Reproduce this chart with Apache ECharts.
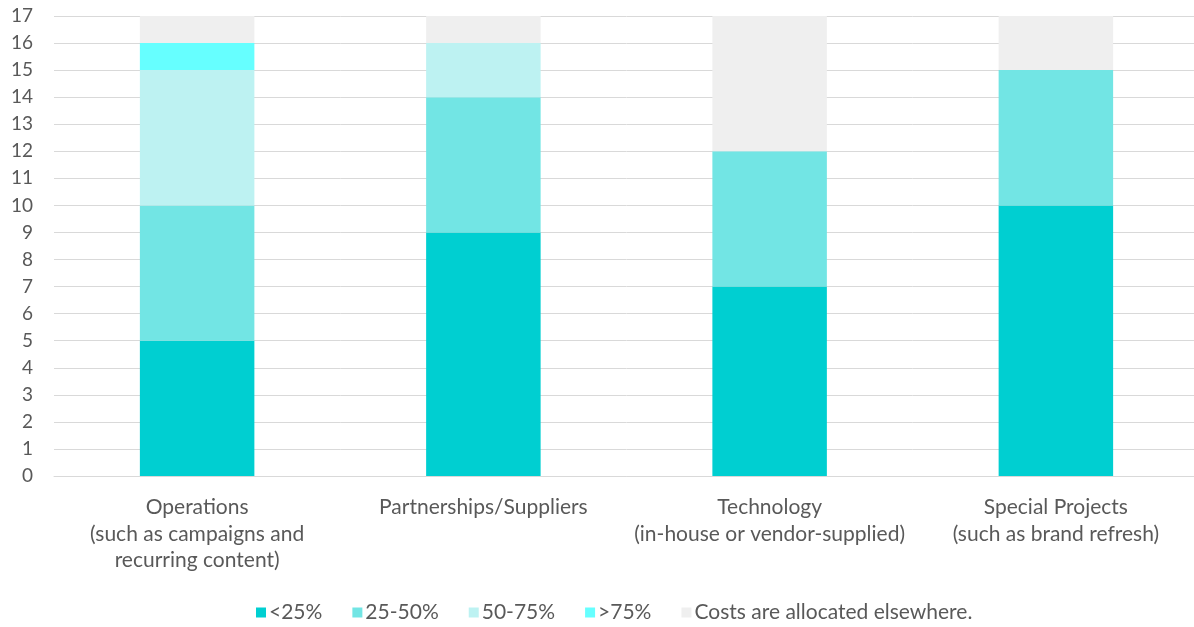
<!DOCTYPE html>
<html>
<head>
<meta charset="utf-8">
<script src="https://cdn.jsdelivr.net/npm/echarts@6/dist/echarts.min.js"></script>
<style>
  html, body { margin: 0; padding: 0; background: #ffffff; overflow: hidden; }
  #chart { width: 1200px; height: 627px; }
</style>
</head>
<body>
<div id="chart"></div>
<script>
// Budget areas and how much of each cost sits in each share bucket
const categories = [
  'Operations\n(such as campaigns and\nrecurring content)',
  'Partnerships/Suppliers',
  'Technology\n(in-house or vendor-supplied)',
  'Special Projects\n(such as brand refresh)'
];
const seriesNames = ['<25%', '25-50%', '50-75%', '>75%', 'Costs are allocated elsewhere.'];
const under25 = [5, 9, 7, 10];
const from25to50 = [5, 5, 5, 5];
const from50to75 = [5, 2, 0, 0];
const over75 = [1, 0, 0, 0];
const elsewhere = [1, 1, 5, 2];
const yTicks = [0, 1, 2, 3, 4, 5, 6, 7, 8, 9, 10, 11, 12, 13, 14, 15, 16, 17];

const colors = ['#00CFD1', '#72E5E4', '#BDF2F2', '#66FFFF', '#EFEFEF'];
const values = [under25, from25to50, from50to75, over75, elsewhere];
const font = 'Lato, "Open Sans", "Liberation Sans", sans-serif';

const chart = echarts.init(document.getElementById('chart'));
chart.setOption({
  animation: false,
  color: colors,
  textStyle: { fontFamily: font },
  grid: { left: 54, width: 1145, top: 16, bottom: 151, containLabel: false },
  legend: {
    top: 597,
    left: 251,
    itemWidth: 10,
    itemHeight: 10,
    itemGap: 30,
    icon: 'rect',
    textStyle: { color: '#595959', fontSize: 21, fontFamily: font, padding: [0, 0, 0, -2] },
    data: seriesNames
  },
  xAxis: {
    type: 'category',
    data: categories,
    axisTick: { show: false },
    axisLine: { show: true, lineStyle: { color: '#D9D9D9', width: 1 } },
    axisLabel: { color: '#595959', fontSize: 21, lineHeight: 26.5, margin: 18, interval: 0 }
  },
  yAxis: {
    type: 'value',
    min: 0,
    max: yTicks[yTicks.length - 1],
    interval: 1,
    axisLine: { show: false },
    axisTick: { show: false },
    splitLine: { lineStyle: { color: '#D9D9D9', width: 1 } },
    axisLabel: { color: '#595959', fontSize: 19, margin: 21, formatter: v => yTicks.includes(v) ? String(v) : '' }
  },
  series: seriesNames.map((name, i) => ({
    name: name,
    type: 'bar',
    stack: 'total',
    barWidth: '40%',
    data: values[i],
    itemStyle: { color: colors[i] },
    emphasis: { disabled: true }
  }))
});
</script>
</body>
</html>
